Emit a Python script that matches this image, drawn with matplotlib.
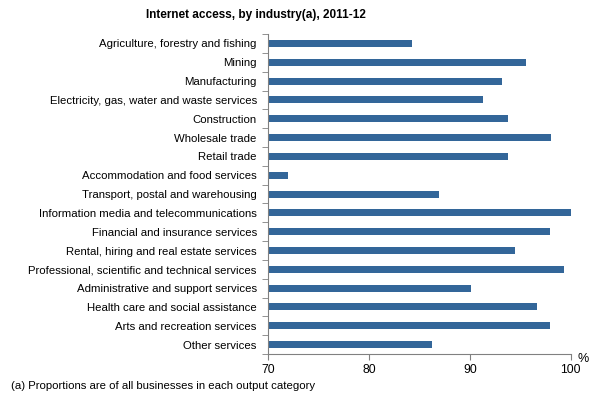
import numpy as np
import matplotlib
matplotlib.use("Agg")
import matplotlib.pyplot as plt

industries = [
    "Agriculture, forestry and fishing",
    "Mining",
    "Manufacturing",
    "Electricity, gas, water and waste services",
    "Construction",
    "Wholesale trade",
    "Retail trade",
    "Accommodation and food services",
    "Transport, postal and warehousing",
    "Information media and telecommunications",
    "Financial and insurance services",
    "Rental, hiring and real estate services",
    "Professional, scientific and technical services",
    "Administrative and support services",
    "Health care and social assistance",
    "Arts and recreation services",
    "Other services",
]
access_pct = [84.3, 95.6, 93.2, 91.3, 93.8, 98.0, 93.8, 72.0, 86.9,
              100.0, 97.9, 94.5, 99.3, 90.1, 96.6, 97.9, 86.3]
x_ticks = [70, 80, 90, 100]

plt.rcParams['font.family'] = ['Liberation Sans', 'DejaVu Sans']

fig = plt.figure(figsize=(5.94, 3.96), dpi=100)
ax = fig.add_axes([0.451, 0.106, 0.51, 0.808])

n = len(industries)
y = np.arange(n)
ax.barh(y, np.array(access_pct) - 70, left=70, height=0.37, color="#336699")

ax.set_xlim(70, 100)
ax.set_ylim(n - 0.5, -0.5)
ax.set_xticks(x_ticks)
ax.set_xticklabels([str(v) for v in x_ticks], fontsize=8.8)
ax.tick_params(axis='x', length=4, color="#808080", pad=3)

# category labels centred on bars, ticks on the boundaries
ax.set_yticks(y)
ax.set_yticklabels(industries, fontsize=8.2)
ax.tick_params(axis='y', length=0, pad=8)
ax.set_yticks(np.arange(n + 1) - 0.5, minor=True)
ax.tick_params(axis='y', which='minor', length=4, color="#808080")

for s in ["top", "right"]:
    ax.spines[s].set_visible(False)
ax.spines["left"].set_color("#808080")
ax.spines["bottom"].set_color("#808080")

fig.text(0.431, 0.962, "Internet access, by industry(a), 2011-12",
         ha="center", va="center", fontsize=8.5, fontweight="bold")
fig.text(0.982, 0.093, "%", ha="center", va="center", fontsize=9)
fig.text(0.018, 0.025, "(a) Proportions are of all businesses in each output category",
         ha="left", va="center", fontsize=8.2)

fig.savefig("out.png", dpi=100)
